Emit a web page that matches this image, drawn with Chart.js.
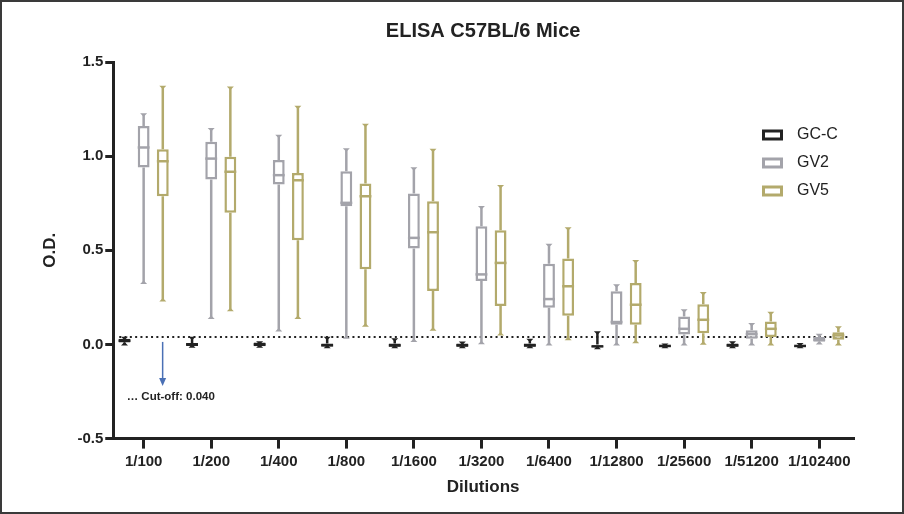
<!DOCTYPE html>
<html>
<head>
<meta charset="utf-8">
<style>
    html, body { margin: 0; padding: 0; background: #fff; }
    #wrap { width: 904px; height: 514px; }
</style>
<script src="https://cdn.jsdelivr.net/npm/chart.js@4.4.1/dist/chart.umd.min.js"></script>
</head>
<body>
<div id="wrap"><canvas id="elisa_chart" width="904" height="514"></canvas></div>
<script>
// dilutions (x axis)
const dilutions = ['1/100', '1/200', '1/400', '1/800', '1/1600', '1/3200', '1/6400', '1/12800', '1/25600', '1/51200', '1/102400'];

// box values per dilution: [min, q1, median, q3, max]
const gccValues = [
    [0.0, 0.01, 0.02, 0.03, 0.035],
    [-0.012, -0.008, 0.0, 0.008, 0.035],
    [-0.012, -0.01, 0.0, 0.01, 0.012],
    [-0.015, -0.01, -0.005, 0.005, 0.035],
    [-0.015, -0.012, -0.005, 0.005, 0.028],
    [-0.015, -0.012, -0.005, 0.005, 0.01],
    [-0.015, -0.012, -0.005, 0.005, 0.025],
    [-0.02, -0.015, -0.01, 0.0, 0.065],
    [-0.015, -0.012, -0.008, 0.0, 0.0],
    [-0.015, -0.012, -0.005, 0.005, 0.012],
    [-0.015, -0.012, -0.008, 0.0, 0.002]
];
const gv2Values = [
    [0.326, 0.94, 1.046, 1.16, 1.222],
    [0.14, 0.876, 0.987, 1.076, 1.144],
    [0.074, 0.849, 0.899, 0.979, 1.108],
    [0.036, 0.734, 0.752, 0.92, 1.037],
    [0.018, 0.509, 0.566, 0.801, 0.936],
    [0.007, 0.337, 0.372, 0.628, 0.73],
    [0.0, 0.195, 0.241, 0.429, 0.53],
    [0.0, 0.105, 0.119, 0.282, 0.314],
    [0.0, 0.053, 0.083, 0.149, 0.181],
    [0.0, 0.03, 0.055, 0.075, 0.108],
    [0.005, 0.015, 0.025, 0.04, 0.052]
];
const gv5Values = [
    [0.234, 0.787, 0.973, 1.036, 1.369],
    [0.181, 0.699, 0.917, 0.997, 1.365],
    [0.14, 0.553, 0.872, 0.911, 1.262],
    [0.099, 0.399, 0.787, 0.855, 1.167],
    [0.078, 0.284, 0.596, 0.761, 1.034],
    [0.053, 0.204, 0.433, 0.606, 0.842],
    [0.028, 0.152, 0.309, 0.457, 0.617],
    [0.012, 0.105, 0.211, 0.326, 0.443],
    [0.004, 0.06, 0.131, 0.213, 0.273],
    [0.0, 0.039, 0.083, 0.122, 0.168],
    [0.0, 0.025, 0.048, 0.065, 0.092]
];

const seriesNames = ['GC-C', 'GV2', 'GV5'];
const seriesColors = ['#222222', '#a3a3aa', '#b3aa6c'];
const yTicks = [-0.5, 0.0, 0.5, 1.0, 1.5];
const cutOff = 0.040;

const FONT = "'Liberation Sans', Arial, Helvetica, sans-serif";
Chart.defaults.font.family = FONT;
Chart.defaults.color = '#222';

function boxData(values) {
    return values.map(function (v) { return [v[1], v[3]]; });
}

const allValues = [gccValues, gv2Values, gv5Values];

// white page, thin frame and the title centred over the plot
const framePlugin = {
    id: 'frame',
    beforeDraw: function (chart) {
        const c = chart.ctx;
        c.save();
        c.fillStyle = '#fff';
        c.fillRect(0, 0, chart.width, chart.height);
        c.strokeStyle = '#3a3a3a';
        c.lineWidth = 2;
        c.strokeRect(1, 1, chart.width - 2, chart.height - 2);
        c.fillStyle = '#222';
        c.font = 'bold 20px ' + FONT;
        c.textAlign = 'center';
        c.textBaseline = 'middle';
        c.fillText('ELISA C57BL/6 Mice', (chart.chartArea.left + chart.chartArea.right) / 2, 31);
        c.restore();
    }
};

// dotted cut-off line, arrow and note
const cutOffPlugin = {
    id: 'cutoff',
    beforeDatasetsDraw: function (chart) {
        const c = chart.ctx;
        const y = chart.scales.y.getPixelForValue(cutOff);
        const area = chart.chartArea;
        c.save();
        c.strokeStyle = '#222';
        c.lineWidth = 2;
        c.setLineDash([2, 3.3]);
        c.beginPath();
        c.moveTo(area.left + 6, y);
        c.lineTo(area.right - 3, y);
        c.stroke();
        c.restore();
    },
    afterDatasetsDraw: function (chart) {
        const c = chart.ctx;
        const xs = chart.scales.x;
        const ys = chart.scales.y;
        const ax = xs.getPixelForValue(0) + 19;
        const y0 = ys.getPixelForValue(cutOff) + 5;
        const y1 = ys.getPixelForValue(-0.22);
        c.save();
        c.strokeStyle = '#4a70b5';
        c.fillStyle = '#4a70b5';
        c.lineWidth = 1.5;
        c.beginPath();
        c.moveTo(ax, y0);
        c.lineTo(ax, y1 - 6);
        c.stroke();
        c.beginPath();
        c.moveTo(ax - 3.5, y1 - 8);
        c.lineTo(ax + 3.5, y1 - 8);
        c.lineTo(ax, y1);
        c.closePath();
        c.fill();
        c.fillStyle = '#222';
        c.font = 'bold 11.5px ' + FONT;
        c.textBaseline = 'middle';
        c.fillText('\u2026 Cut-off: ' + cutOff.toFixed(3), xs.getPixelForValue(0) - 17, ys.getPixelForValue(-0.28));
        c.restore();
    }
};

// whiskers + median lines on top of the floating bars
const whiskerPlugin = {
    id: 'whiskers',
    afterDatasetsDraw: function (chart) {
        const c = chart.ctx;
        const ys = chart.scales.y;
        c.save();
        c.lineCap = 'butt';
        chart.data.datasets.forEach(function (ds, d) {
            const meta = chart.getDatasetMeta(d);
            const values = allValues[d];
            c.strokeStyle = seriesColors[d];
            c.fillStyle = seriesColors[d];
            meta.data.forEach(function (bar, i) {
                const v = values[i];
                const x = bar.x;
                const hw = bar.width / 2;
                const yMin = ys.getPixelForValue(v[0]);
                const yMed = ys.getPixelForValue(v[2]);
                const yQ1 = ys.getPixelForValue(v[1]);
                const yQ3 = ys.getPixelForValue(v[3]);
                const yMax = ys.getPixelForValue(v[4]);
                c.lineWidth = 2.5;
                c.beginPath();
                c.moveTo(x, yQ3);
                c.lineTo(x, yMax);
                c.moveTo(x, yQ1);
                c.lineTo(x, yMin);
                c.stroke();
                // caps
                c.beginPath();
                c.moveTo(x - 3.5, yMax - 1);
                c.lineTo(x + 3.5, yMax - 1);
                c.lineTo(x, yMax + 2.5);
                c.closePath();
                c.fill();
                c.beginPath();
                c.moveTo(x - 3.5, yMin + 1);
                c.lineTo(x + 3.5, yMin + 1);
                c.lineTo(x, yMin - 2.5);
                c.closePath();
                c.fill();
                // median
                c.beginPath();
                c.moveTo(x - hw, yMed);
                c.lineTo(x + hw, yMed);
                c.stroke();
            });
        });
        c.restore();
    }
};

// legend at top right
const legendPlugin = {
    id: 'boxLegend',
    afterDraw: function (chart) {
        const c = chart.ctx;
        const left = chart.chartArea.right - 91;
        const top = chart.chartArea.top + 73;
        c.save();
        c.font = '16px ' + FONT;
        c.textBaseline = 'middle';
        seriesNames.forEach(function (name, i) {
            const y = top + i * 28;
            c.strokeStyle = seriesColors[i];
            c.lineWidth = 3;
            c.strokeRect(left + 1.5, y - 4, 18, 8);
            c.fillStyle = '#222';
            c.fillText(name, left + 35, y);
        });
        c.restore();
    }
};

window.onload = function () {
    const ctx = document.getElementById('elisa_chart');
    const datasets = seriesNames.map(function (name, i) {
        return {
            label: name,
            data: boxData(allValues[i]),
            backgroundColor: '#ffffff',
            borderColor: seriesColors[i],
            borderWidth: 2.5,
            borderSkipped: false,
            categoryPercentage: 0.85,
            barPercentage: 0.62
        };
    });

    new Chart(ctx, {
        type: 'bar',
        data: {
            labels: dilutions,
            datasets: datasets
        },
        options: {
            responsive: false,
            animation: false,
            devicePixelRatio: 1,
            layout: {
                padding: { top: 62, left: 10, right: 51, bottom: 10 }
            },
            plugins: {
                legend: { display: false },
                tooltip: { enabled: false },
                title: { display: false }
            },
            scales: {
                x: {
                    offset: true,
                    // first group sits a little closer to the y axis than the last one to the end
                    afterBuildTicks: function (axis) {
                        axis._startValue = -0.45;
                        axis._valueRange = dilutions.length - 0.05;
                    },
                    grid: {
                        offset: false,
                        drawOnChartArea: false,
                        drawTicks: true,
                        tickLength: 10,
                        lineWidth: 3,
                        color: '#222'
                    },
                    border: { display: true, width: 3, color: '#222' },
                    ticks: {
                        color: '#222',
                        font: { size: 15, weight: 'bold' },
                        padding: 4,
                        maxRotation: 0,
                        minRotation: 0,
                        autoSkip: false
                    },
                    title: {
                        display: true,
                        text: 'Dilutions',
                        color: '#222',
                        font: { size: 17, weight: 'bold' },
                        padding: { top: 3, bottom: 6 }
                    }
                },
                y: {
                    min: yTicks[0],
                    max: yTicks[yTicks.length - 1],
                    afterBuildTicks: function (axis) {
                        axis.ticks = yTicks.map(function (v) { return { value: v }; });
                    },
                    grid: {
                        drawOnChartArea: false,
                        drawTicks: true,
                        tickLength: 8,
                        lineWidth: 3,
                        color: '#222'
                    },
                    border: { display: true, width: 3, color: '#222' },
                    ticks: {
                        color: '#222',
                        font: { size: 15, weight: 'bold' },
                        padding: 2,
                        callback: function (value) { return Number(value).toFixed(1); }
                    },
                    title: {
                        display: true,
                        text: 'O.D.',
                        color: '#222',
                        font: { size: 17, weight: 'bold' },
                        padding: { top: 30, bottom: 15 }
                    }
                }
            }
        },
        plugins: [framePlugin, cutOffPlugin, whiskerPlugin, legendPlugin]
    });
};
</script>
</body>
</html>
